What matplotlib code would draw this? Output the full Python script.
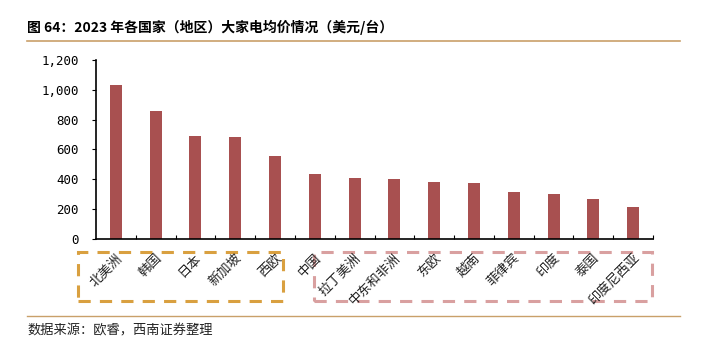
import matplotlib
matplotlib.use("Agg")
import matplotlib.pyplot as plt
from matplotlib.patches import Rectangle
from matplotlib.lines import Line2D
import matplotlib.transforms as mtransforms
from matplotlib.ticker import FuncFormatter, FixedLocator

plt.rcParams['font.family'] = ['Noto Sans CJK SC', 'DejaVu Sans']

categories = ["北美洲", "韩国", "日本", "新加坡", "西欧", "中国", "拉丁美洲",
              "中东和非洲", "东欧", "越南", "菲律宾", "印度", "泰国", "印度尼西亚"]
prices = [1030, 858, 688, 682, 558, 436, 412, 404, 382, 373, 315, 302, 268, 212]
y_ticks = [0, 200, 400, 600, 800, 1000, 1200]

title = "图 64：2023 年各国家（地区）大家电均价情况（美元/台）"
source = "数据来源：欧睿，西南证券整理"

W, H = 707, 345
fig = plt.figure(figsize=(W / 100, H / 100), dpi=100)
ax = fig.add_axes([96 / W, (H - 239) / H, (653 - 96) / W, (239 - 60) / H])

x = list(range(len(categories)))
ax.bar(x, prices, width=0.3, color="#A85050", edgecolor="none")

ax.set_xlim(-0.5, len(categories) - 0.5)
ax.set_ylim(0, 1200)
ax.set_yticks(y_ticks)
ax.yaxis.set_major_formatter(FuncFormatter(lambda v, p: f"{int(v):,}"))
for lab in ax.get_yticklabels():
    lab.set_fontfamily("DejaVu Sans Mono")
    lab.set_fontsize(9)
ax.tick_params(axis="y", direction="out", length=3, width=0.8, pad=9.5, colors="black")

ax.set_xticks([])
ax.xaxis.set_minor_locator(FixedLocator([i + 0.5 for i in range(len(categories))]))
ax.tick_params(axis="x", which="minor", direction="in", length=3, width=0.8)

for s in ("top", "right"):
    ax.spines[s].set_visible(False)
for s in ("left", "bottom"):
    ax.spines[s].set_linewidth(1.2)
    ax.spines[s].set_color("black")

# rotated category labels
lbl_tr = mtransforms.blended_transform_factory(ax.transData, ax.transAxes)
for i, name in enumerate(categories):
    ax.text(i + 0.1, -0.095, name, transform=lbl_tr, rotation=45,
            rotation_mode="anchor", ha="right", va="center", fontsize=9.5,
            color="#222222", clip_on=False)

# group frames
for x0, x1, col in [(-0.95, 4.2, "#D9A040"), (4.98, 13.47, "#D9A0A0")]:
    ax.add_patch(Rectangle((x0, -0.346), x1 - x0, 0.274, transform=lbl_tr,
                           fill=False, edgecolor=col, linewidth=2.2,
                           linestyle=(0, (4, 3)), clip_on=False))

# header and footer
fig.text(27 / W, 1 - 27 / H, title, fontsize=10, fontweight="bold",
         ha="left", va="center", color="black")
fig.add_artist(Line2D([27 / W, 680 / W], [1 - 41 / H] * 2,
                      transform=fig.transFigure, color="#C9A06A", linewidth=1.2))
fig.add_artist(Line2D([27 / W, 680 / W], [1 - 316 / H] * 2,
                      transform=fig.transFigure, color="#C9A06A", linewidth=1.0))
fig.text(27 / W, 1 - 331 / H, source, fontsize=9.5, style="italic",
         ha="left", va="center", color="#222222")

fig.savefig("out.png", dpi=100)
